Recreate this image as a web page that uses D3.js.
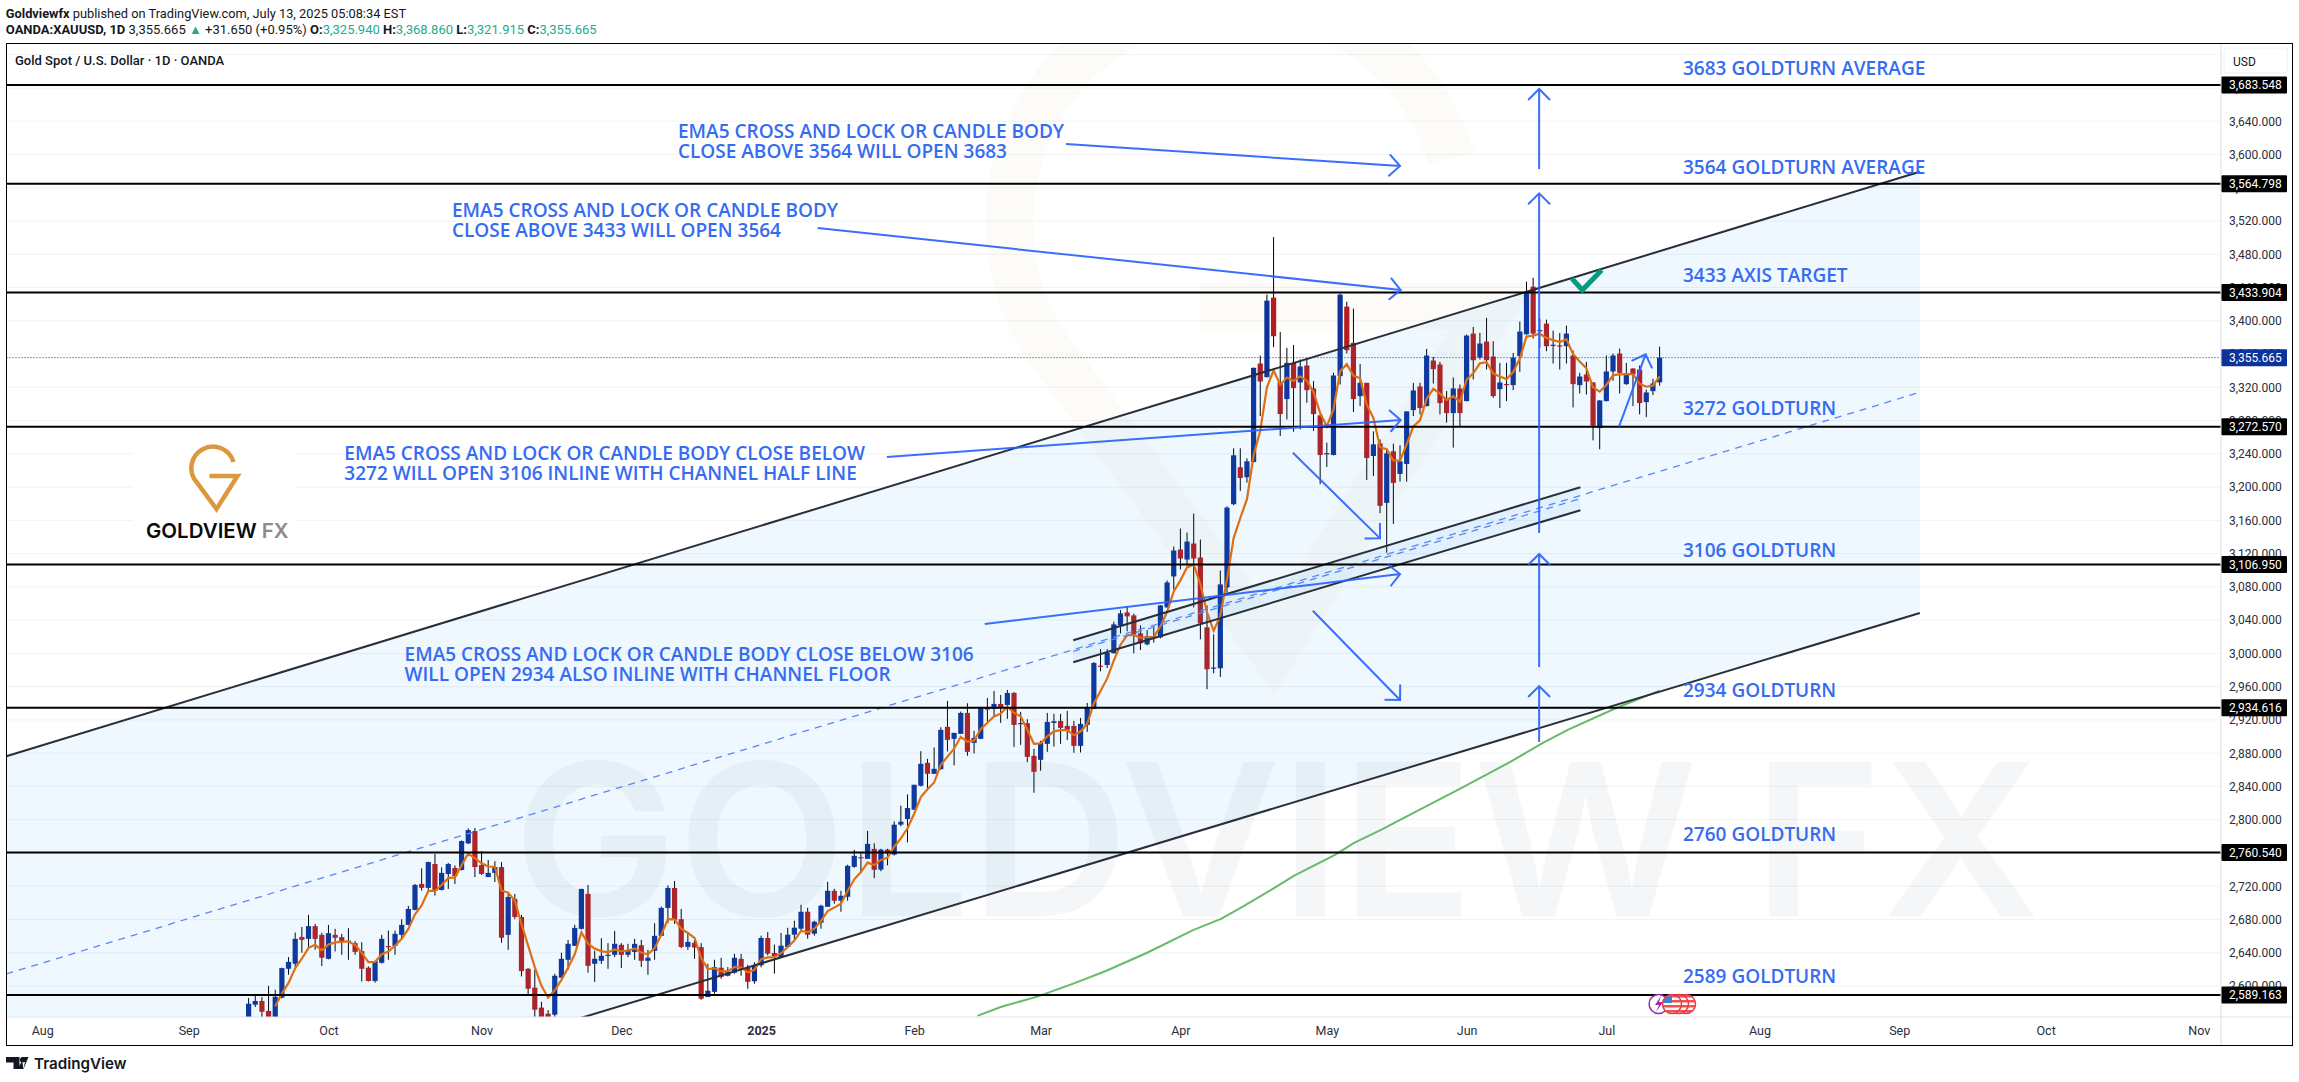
<!DOCTYPE html>
<html>
<head>
<meta charset="utf-8">
<style>
  html, body { margin: 0; padding: 0; background: #fff; }
  svg { display: block; }
  text { font-family: Roboto, sans-serif; }
</style>
</head>
<body>
<div id="chart"></div>
<script src="https://cdn.jsdelivr.net/npm/d3@7/dist/d3.min.js"></script>
<script>
// daily candles, oldest first
const opens = [2560,2577.5,2582,2570,2555,2586,2620.7,2626.7,2659,2656.7,
  2672,2661.5,2632.7,2661.5,2658.7,2654,2651.5,2642,2622,2606,
  2627.9,2648,2648.3,2661.5,2673.5,2691.5,2722.7,2718,2746.7,2715.5,
  2734.7,2741.9,2739.5,2771.5,2786.3,2745.5,2731,2736,2743,2661.5,
  2704.7,2683,2620.7,2598,2574,2566.7,2565.5,2610,2631.5,2648.3,
  2668.7,2710.7,2626.7,2630.3,2637,2637.5,2649.5,2637.5,2641,2649,
  2630.3,2642.3,2660.3,2693.9,2717.9,2680.3,2647,2651.9,2646.7,2586.7,
  2593,2622,2612.3,2616,2632.7,2622,2605.7,2624.9,2657.7,2639.7,
  2634.9,2646.9,2661.7,2668.9,2689.3,2662.9,2676.1,2695.3,2714.5,2702.5,
  2707.3,2743.3,2755,2752.9,2764.9,2740,2764,2758,2794,2800.8,
  2812,2840.8,2868.4,2855.2,2860.8,2911.6,2897.2,2903.2,2928.4,2892.4,
  2897.2,2934.4,2933.2,2939.2,2938,2952.4,2915.8,2916,2876.8,2872,
  2891.2,2916.4,2918.8,2912.8,2912.8,2888.8,2914,2933.2,2985.2,2986,
  3000.1,3033.7,3049.3,3045.7,3024.1,3010.9,3021,3019.3,3055.3,3092.5,
  3124.9,3112.9,3132.1,3115.3,3031.3,2982.6,2982.1,3079.3,3179.4,3223.8,
  3211.8,3230.2,3348.6,3332.2,3427.8,3326.2,3305.8,3349.4,3325.8,3346.2,
  3318.6,3286.2,3240.4,3238.6,3333.4,3417,3373.4,3309.4,3325.4,3237.4,
  3252.6,3181,3243,3215.8,3227.8,3292.6,3321,3297.4,3352.2,3347.4,
  3305.8,3289,3318.6,3303.4,3384.6,3355.8,3375,3357,3317.8,3324,
  3322.6,3357.4,3383.8,3441,3388.4,3396.6,3370.8,3370.4,3369.4,3358.2,
  3322.6,3335.4,3325.8,3271,3303.4,3339,3360.6,3323.8,3342.6,3341.4,
  3302.2,3315.4,3325.94];
const highs = [2585.5,2588,2586.7,2600,2595.5,2622,2634.7,2664.3,2671,2685.5,
  2674.7,2664,2673.5,2668.7,2662.7,2669.5,2654,2652.7,2623.5,2630.3,
  2661.5,2666.7,2666.7,2680.3,2696.3,2722.7,2741.5,2749.5,2758.7,2742.7,
  2748,2745,2775,2789.5,2790,2762.3,2751.5,2750,2749,2710.7,
  2710.7,2685.5,2621.5,2619.5,2581,2571,2614.7,2640,2655.5,2673.5,
  2717,2721.5,2642.3,2657.5,2651.5,2666.3,2651.5,2650.7,2656.7,2655.5,
  2643.5,2675.5,2695.5,2721,2726.3,2692.7,2664.3,2658.7,2651.5,2626.7,
  2631.5,2633.9,2622.7,2638.7,2638.7,2625.5,2628.5,2660.5,2664.9,2649.7,
  2663.7,2670,2678.5,2697.7,2694,2678.5,2697.7,2725.3,2716.9,2714.5,
  2745.7,2763.7,2759.7,2786.5,2771.7,2765,2765,2798,2816.8,2830.4,
  2842,2882.4,2873.2,2886.8,2911.2,2942.8,2904.4,2930,2940,2906.8,
  2935.6,2946.4,2954.8,2950,2956,2953.6,2929.6,2920.8,2885.2,2894.8,
  2928.4,2927.2,2927.2,2930.8,2918.8,2922.4,2940.4,2989.6,3005.2,3005.2,
  3038.1,3052.1,3056.9,3047.7,3033.7,3028,3032.9,3058,3087.7,3128.5,
  3150.1,3145.3,3168.1,3136.9,3057.7,3022.9,3099.7,3176.9,3246.6,3246.6,
  3234.6,3343.8,3358.2,3431.4,3500.6,3386.6,3367.4,3371,3353.4,3355.4,
  3327.4,3287.4,3253.4,3337.4,3432.6,3423,3414.6,3348.2,3325.4,3267,
  3257.4,3245.4,3252.2,3250.2,3291,3325.4,3325.4,3366.2,3356.6,3350.6,
  3315.4,3331.8,3323.4,3383.4,3392.6,3385.4,3403.4,3375.4,3349.4,3349.4,
  3361.4,3399,3447,3451.8,3402.6,3401.4,3388.2,3385.4,3394.2,3364.2,
  3337.4,3350.6,3326,3304.4,3358.2,3360.6,3366.6,3349.4,3343,3346.2,
  3317.4,3330.2,3368.86];
const lows = [2550,2574.7,2560,2550,2550,2585,2613.5,2622.7,2640,2644,
  2643.5,2624,2632,2641.5,2637.5,2631.5,2637.5,2605.5,2605.5,2604,
  2627,2631.5,2637.5,2656.7,2673,2691,2714.7,2715.5,2708.7,2715,
  2716.7,2722.7,2739,2770.7,2731,2733.5,2731,2725,2652,2643.5,
  2680.3,2611.5,2589.5,2560,2545,2537,2560,2610,2619.5,2648,
  2668,2616,2605,2626.7,2620.7,2634.7,2621.5,2634.7,2631.5,2623,
  2613.5,2631.5,2660,2675.5,2674.7,2645.5,2643.5,2632.7,2583.5,2586.7,
  2590.5,2608.7,2611.5,2614.7,2612.3,2596.7,2602.7,2622.5,2636.9,2614.9,
  2633.7,2646.9,2655.7,2666.5,2656.9,2660.5,2668.9,2695,2698.9,2689.3,
  2702.5,2742.1,2736,2752.9,2729.7,2738,2745,2757,2792,2772.8,
  2812,2840,2835.2,2855,2860,2882,2865.2,2903,2876.8,2879.6,
  2897,2918,2923.6,2916.4,2921.2,2887.6,2890,2869.2,2832.4,2858.8,
  2881.6,2888,2891.2,2896,2880.4,2880.8,2905.6,2933,2978.4,2982.4,
  3000,3024.1,3026.5,3000.1,3004.1,3009.7,3012.9,3018.1,3055,3076.9,
  3100.9,3105.7,3055.3,3016.9,2956.9,2976.1,2971.7,3072.9,3178.2,3195.4,
  3205.4,3229.4,3285.4,3332,3368.2,3261.4,3281.4,3266.6,3269.4,3301.4,
  3267.4,3203.4,3224.2,3238,3323.4,3360.6,3290.2,3297.4,3208.6,3213.4,
  3168.6,3121,3155.8,3206.6,3206.6,3285.4,3287.4,3297,3324.6,3287.4,
  3277.4,3247.4,3273.4,3303,3329.4,3353.4,3341.4,3307.4,3295,3303.4,
  3316.6,3338.6,3383,3378.6,3367.4,3363.4,3348.6,3341.4,3348.6,3295.8,
  3312.6,3311.4,3256.2,3245.4,3303,3327.8,3312.6,3323,3297.4,3287.4,
  3284.2,3310.6,3321.915];
const closes = [2578.7,2582,2569,2555,2587,2621.5,2629,2656.7,2655.5,2672,
  2656.7,2634,2663.5,2658,2654,2654.5,2641,2620.7,2606,2630,
  2656.7,2647.5,2662.7,2673.5,2692.7,2721.5,2718,2749,2714.3,2736,
  2746.7,2732.3,2774.3,2787.5,2743,2734.7,2736,2743,2658,2707,
  2683,2618,2596.7,2571.5,2555,2558,2612.3,2632.7,2650.7,2669.9,
  2716.7,2624.3,2632.7,2636.3,2637.5,2650.7,2637.5,2643.5,2650.7,2630.3,
  2634,2660.3,2693.9,2717.9,2679.5,2647,2653,2646.3,2584.7,2594.3,
  2622.7,2611,2617,2633.9,2620.7,2605,2624.9,2657.7,2638.9,2635.7,
  2648.5,2661.7,2670.1,2689.3,2661.7,2677.3,2696.5,2714.5,2702.5,2708.5,
  2744.5,2756.5,2754.5,2770.9,2739.7,2764,2759.6,2794,2797.6,2814,
  2842,2867.2,2855.2,2861.2,2908,2896,2904.4,2928.4,2881.6,2898.4,
  2935.6,2932.4,2939.2,2934.4,2952.4,2914,2916.2,2875.6,2857.6,2892.4,
  2917.6,2918.4,2910.4,2908,2888.8,2915.2,2934.4,2988.4,2984.4,3000.4,
  3034.9,3048.1,3044.5,3022.9,3012.1,3020.5,3020.5,3057.7,3085.3,3123.7,
  3114.1,3134.5,3114.1,3036.1,2980.9,2983,3082.9,3175.3,3238.2,3211,
  3231,3343.4,3327,3424.2,3381.4,3287.8,3349.4,3319,3345,3316.6,
  3287.8,3238.6,3240.8,3334.2,3431.4,3364.6,3305.8,3325.4,3235,3251.4,
  3177.4,3240.6,3205,3231,3291,3316.2,3295,3358.2,3341.8,3301,
  3289,3318.6,3289,3382.2,3352.6,3372.6,3352.6,3309.4,3325.8,3323.4,
  3355.8,3387,3433.8,3384.6,3388.8,3369.4,3371.2,3370,3384.6,3323.8,
  3333,3327,3273.8,3304.2,3339,3358.2,3337.4,3336.6,3335.4,3301,
  3313.8,3324.6,3355.665];

// orange EMA5, first value sits on bar index 4
const ema5 = [2575.7,2591,2603.7,2621.4,2632.8,2645.9,2649.5,2643,2649.8,2652.5,
  2653,2653.5,2649.3,2639.8,2628.6,2629,2638.2,2641.3,2648.4,2656.8,
  2668.7,2686.3,2696.9,2714.3,2714.3,2721.5,2729.7,2730.6,2745.2,2759.3,
  2753.9,2747.5,2743.7,2743.4,2714.9,2712.3,2702.5,2674.4,2648.5,2622.8,
  2600.2,2586.1,2594.8,2607.4,2621.8,2638.2,2664.4,2651,2644.9,2642,
  2640.5,2643.9,2641.8,2642.4,2645.2,2640.2,2638.1,2645.5,2661.6,2680.4,
  2680.1,2669,2663.7,2657.9,2633.5,2620.4,2621.2,2617.8,2617.6,2623,
  2622.3,2616.5,2619.3,2632.2,2634.4,2634.8,2639.4,2646.8,2654.6,2666.2,
  2664.7,2668.9,2678.1,2690.2,2694.3,2699,2714.2,2728.3,2737,2748.3,
  2745.4,2751.6,2754.3,2767.5,2777.5,2789.7,2807.1,2827.1,2836.5,2844.7,
  2865.8,2875.9,2885.4,2899.7,2893.7,2895.3,2908.7,2916.6,2924.1,2927.5,
  2935.8,2928.5,2924.4,2908.1,2891.3,2891.7,2900.3,2906.3,2907.7,2907.8,
  2901.5,2906,2915.5,2939.8,2954.7,2969.9,2991.6,3010.4,3021.8,3022.2,
  3018.8,3019.4,3019.8,3032.4,3050,3074.6,3087.8,3103.4,3107,3083.3,
  3049.2,3027.1,3045.7,3088.9,3138.7,3162.8,3185.5,3238.2,3267.8,3319.9,
  3340.4,3322.9,3331.7,3327.5,3333.3,3327.7,3314.4,3289.1,3273,3293.4,
  3339.4,3347.8,3333.8,3331,3299,3283.1,3247.9,3245.5,3232,3231.7,
  3251.5,3273,3280.3,3306.3,3318.1,3312.4,3304.6,3309.3,3302.5,3329.1,
  3336.9,3348.8,3350.1,3336.5,3332.9,3329.8,3338.4,3354.6,3381,3382.2,
  3384.4,3379.4,3376.7,3374.5,3377.8,3359.8,3350.9,3342.9,3319.9,3314.7,
  3322.8,3334.6,3335.5,3335.9,3335.7,3324.1,3320.7,3322,3333.2];

// green long moving average, spot readings
const smaBars = [109.5,113,118.5,124,128.8,135,141.9,146.1,149.5,153.7,157.1,
  163.3,166.1,170.2,176.4,181.9,189.5,194.4,198.2,205.4,212];
const smaValues = [2564,2574.8,2587.2,2603.2,2618,2640,2667.2,2680.8,2696,2716,2732.8,
  2758,2772,2788,2814,2836.8,2869.2,2892,2908,2934,2955.2];

const priceTicks = [2600,2640,2680,2720,2760,2800,2840,2880,2920,2960,3000,3040,3080,3120,
  3160,3200,3240,3280,3320,3360,3400,3440,3480,3520,3560,3600,3640,3680,3720];
const timeTicks = [-31,-9,12,35,56,77,100,119,140,162,183,204,227,248,270,293];
const timeLabels = ["Aug","Sep","Oct","Nov","Dec","2025","Feb","Mar","Apr","May","Jun","Jul","Aug","Sep","Oct","Nov"];

// black levels, prices as printed on the axis tags
const levels = [3683.548,3564.798,3433.904,3272.57,3106.95,2934.616,2760.54,2589.163];
const lastPrice = 3355.665;

// drawn channels as [bar, price]
const channelUpper = [[-36.4,2876.3],[251.1,3579.3]];
const channelLower = [[-36.4,2352.6],[251.1,3048.6]];
const channelMid = [[-36.4,2614.5],[251.1,3314]];
const smallUpper = [[123.9,3015.7],[200.1,3199.8]];
const smallLower = [[123.9,2989.3],[200.1,3172.2]];
const smallMid = [[123.9,3002.5],[200.1,3186]];

// drawn arrows, tail then tip as [bar, price]
const arrows = [
  [[122.8,3612.6],[173,3586.1]],
  [[85.5,3511.5],[173.1,3437]],
  [[95.9,3236.1],[173.1,3280.6]],
  [[110.6,3035.3],[173,3095.4]],
  [[156.9,3241.3],[170,3138.3]],
  [[159.9,3051.3],[173,2943.9]],
  [[193.9,3582.5],[193.9,3678.7]],
  [[193.9,3144.7],[193.9,3553.3]],
  [[193.9,2983.6],[193.9,3119.5]],
  [[193.9,2893.4],[193.9,2960.7]],
  [[205.9,3272.6],[209.9,3359.6]]
];

const levelNotes = ["3683 GOLDTURN AVERAGE","3564 GOLDTURN AVERAGE","3433 AXIS TARGET","3272 GOLDTURN",
  "3106 GOLDTURN","2934 GOLDTURN","2760 GOLDTURN","2589 GOLDTURN"];
const levelNoteY = [68,167,275,407.5,549.7,690,834,976];
const blocks = [
  { x: 678, y: 131, lines: ["EMA5 CROSS AND LOCK OR CANDLE BODY","CLOSE ABOVE 3564 WILL OPEN 3683"] },
  { x: 452, y: 210, lines: ["EMA5 CROSS AND LOCK OR CANDLE BODY","CLOSE ABOVE 3433 WILL OPEN 3564"] },
  { x: 344.3, y: 453, lines: ["EMA5 CROSS AND LOCK OR CANDLE BODY CLOSE BELOW","3272 WILL OPEN 3106 INLINE WITH CHANNEL HALF LINE"] },
  { x: 404.6, y: 654, lines: ["EMA5 CROSS AND LOCK OR CANDLE BODY CLOSE BELOW 3106","WILL OPEN 2934 ALSO INLINE WITH CHANNEL FLOOR"] }
];

// layout
const W = 2299, H = 1082;
const frame = { left: 6.5, right: 2292.5, top: 43.5, bottom: 1045.5 };
const plotRight = 2221, plotBottom = 1017;

const blue = "#2962ff", noteBlue = "#356cf2", upCol = "#0d3299", downCol = "#b71c1c";

var svg = d3.select("#chart").append("svg").attr("width", W).attr("height", H);

svg.append("clipPath").attr("id", "plot").append("rect")
  .attr("x", frame.left).attr("y", frame.top)
  .attr("width", plotRight - frame.left).attr("height", plotBottom - frame.top);

// scales
var x = d3.scaleLinear().domain([0, 212]).range([248.6, 1659.6]);
var y = d3.scaleLinear().domain([3683.548, 2589.163]).range([85, 995]);

var g = svg.append("g").attr("clip-path", "url(#plot)");

// gridlines
g.selectAll(".grid").data(priceTicks).enter().append("line")
  .attr("x1", frame.left).attr("x2", plotRight)
  .attr("y1", (d) => y(d)).attr("y2", (d) => y(d))
  .attr("stroke", "#f0f2f5").attr("stroke-width", 1);

// big faint logo and name behind everything
const pinPath = "M17,-13 A21.5,21.5 0 1 0 -20,7 L0,34 L21,1 L-7,1";
g.append("path").attr("d", pinPath)
  .attr("transform", "translate(1273,295) scale(10.5)")
  .attr("fill", "none").attr("stroke", "#b5803c").attr("stroke-width", 4.5)
  .attr("opacity", 0.035);
g.append("text").text("GOLDVIEW FX")
  .attr("x", 513).attr("y", 916)
  .attr("textLength", 1527).attr("lengthAdjust", "spacingAndGlyphs")
  .style("font-family", "Inter, sans-serif").style("font-weight", 600).style("font-size", "211px")
  .attr("fill", "#707f90").attr("opacity", 0.065);

// candles
var bars = closes.map((c, i) => ({ i: i, o: opens[i], h: highs[i], l: lows[i], c: c }));

g.selectAll(".wick").data(bars).enter().append("line")
  .attr("x1", (d) => x(d.i)).attr("x2", (d) => x(d.i))
  .attr("y1", (d) => y(d.h)).attr("y2", (d) => y(d.l))
  .attr("stroke", "#000").attr("stroke-width", 1);

g.selectAll(".body").data(bars).enter().append("rect")
  .attr("x", (d) => x(d.i) - 2.6).attr("width", 5.2)
  .attr("y", (d) => y(Math.max(d.o, d.c)))
  .attr("height", (d) => Math.max(1.2, Math.abs(y(d.o) - y(d.c))))
  .attr("fill", (d) => (d.c >= d.o ? upCol : downCol));

// moving averages
var line = d3.line().x((d) => x(d[0])).y((d) => y(d[1]));

g.append("path").attr("d", line(ema5.map((v, i) => [i + 4, v])))
  .attr("fill", "none").attr("stroke", "#ef6c00").attr("stroke-width", 2.2);
g.append("path").attr("d", line(smaBars.map((b, i) => [b, smaValues[i]])))
  .attr("fill", "none").attr("stroke", "#66bb6a").attr("stroke-width", 2);

// channels, shading first then the rails
function shade(a, b) {
  g.append("path").attr("d", line(a.concat(b.slice().reverse())) + "Z")
    .attr("fill", "#2196f3").attr("opacity", 0.07);
}
shade(channelUpper, channelLower);
shade(smallUpper, smallLower);

[channelUpper, channelLower, smallUpper, smallLower].forEach((c) => {
  g.append("path").attr("d", line(c)).attr("fill", "none")
    .attr("stroke", "#2a2e39").attr("stroke-width", 2);
});
[channelMid, smallMid].forEach((c) => {
  g.append("path").attr("d", line(c)).attr("fill", "none")
    .attr("stroke", "#5b86f5").attr("stroke-width", 1.3).attr("stroke-dasharray", "7 6");
});

// horizontal levels
g.selectAll(".level").data(levels).enter().append("line")
  .attr("x1", frame.left).attr("x2", plotRight)
  .attr("y1", (d) => y(d)).attr("y2", (d) => y(d))
  .attr("stroke", "#000").attr("stroke-width", 2);

// last price dotted line
g.append("line")
  .attr("x1", frame.left).attr("x2", plotRight)
  .attr("y1", y(lastPrice)).attr("y2", y(lastPrice))
  .attr("stroke", "#0d3299").attr("stroke-width", 1).attr("stroke-dasharray", "1 2");

// arrows with an open head
arrows.forEach((a) => {
  var x0 = x(a[0][0]), y0 = y(a[0][1]), x1 = x(a[1][0]), y1 = y(a[1][1]);
  var ang = Math.atan2(y1 - y0, x1 - x0), hl = 15.5;
  var d = "M" + x0 + "," + y0 + "L" + x1 + "," + y1 +
    "M" + (x1 + hl * Math.cos(ang + 2.356)) + "," + (y1 + hl * Math.sin(ang + 2.356)) +
    "L" + x1 + "," + y1 +
    "L" + (x1 + hl * Math.cos(ang - 2.356)) + "," + (y1 + hl * Math.sin(ang - 2.356));
  g.append("path").attr("d", d).attr("fill", "none")
    .attr("stroke", blue).attr("stroke-width", 2).attr("opacity", 0.92);
});

// check mark on the top rail
g.append("path").attr("d", line([[198.8, 3451], [200.4, 3437], [203.3, 3461]]))
  .attr("fill", "none").attr("stroke", "#089981").attr("stroke-width", 5);

// annotation text
function note(sel) {
  return sel.attr("fill", noteBlue).attr("dominant-baseline", "central")
    .style("font-family", "'Open Sans', sans-serif").style("font-weight", 600).style("font-size", "19px");
}
levelNotes.forEach((t, i) => {
  note(g.append("text").text(t).attr("x", 1683).attr("y", levelNoteY[i]));
});
blocks.forEach((b) => {
  b.lines.forEach((t, i) => {
    note(g.append("text").text(t).attr("x", b.x).attr("y", b.y + i * 20));
  });
});

// logo block on the left, sits on a white patch
var logo = g.append("g");
logo.append("rect").attr("x", 133).attr("y", 446).attr("width", 163).attr("height", 105).attr("fill", "#fff");
logo.append("path").attr("d", pinPath).attr("transform", "translate(216.5,475)")
  .attr("fill", "none").attr("stroke", "#dc983f").attr("stroke-width", 4.5);
logo.append("text").attr("x", 146).attr("y", 538)
  .style("font-family", "Inter, sans-serif").style("font-weight", 600).style("font-size", "20.5px")
  .call((t) => {
    t.append("tspan").text("GOLDVIEW ").attr("fill", "#0b0b0b");
    t.append("tspan").text("FX").attr("fill", "#8c8c8c");
  });

// economic event icons
var ev = g.append("g");
ev.append("circle").attr("cx", 1658.6).attr("cy", 1004).attr("r", 9.5)
  .attr("fill", "#fff").attr("stroke", "#9c27b0").attr("stroke-width", 1.5);
ev.append("path").attr("d", "M1661,996 L1655,1005 L1659,1005 L1656,1012 L1663,1002 L1659,1002 Z").attr("fill", "#9c27b0");
[1686, 1679, 1672].forEach((cx, k) => {
  var id = "fl" + k;
  svg.append("clipPath").attr("id", id).append("circle").attr("cx", cx).attr("cy", 1004).attr("r", 9.5);
  var f = ev.append("g");
  var fg = f.append("g").attr("clip-path", "url(#" + id + ")");
  fg.append("rect").attr("x", cx - 10).attr("y", 994).attr("width", 20).attr("height", 20).attr("fill", "#fff");
  [995, 1000, 1005, 1010].forEach((yy) => {
    fg.append("rect").attr("x", cx - 10).attr("y", yy).attr("width", 20).attr("height", 2.5).attr("fill", "#ef5350");
  });
  fg.append("rect").attr("x", cx - 10).attr("y", 994).attr("width", 10).attr("height", 9).attr("fill", "#3f7fd0");
  f.append("circle").attr("cx", cx).attr("cy", 1004).attr("r", 9.5)
    .attr("fill", "none").attr("stroke", "#f23645").attr("stroke-width", 1.5);
});

// right price axis
var axisY = svg.append("g").attr("transform", "translate(" + plotRight + ",0)")
  .call(d3.axisRight(y).tickValues(priceTicks.filter((d) => d < 3700)).tickFormat(d3.format(",.3f")).tickSize(0).tickPadding(8));
axisY.select(".domain").remove();
axisY.selectAll("text").attr("fill", "#2a2e39").style("font-size", "12px").style("font-family", "Roboto, sans-serif");

// bottom time axis
var axisX = svg.append("g").attr("transform", "translate(0," + plotBottom + ")")
  .call(d3.axisBottom(x).tickValues(timeTicks).tickFormat((d, i) => timeLabels[i]).tickSize(0).tickPadding(9));
axisX.select(".domain").remove();
axisX.selectAll("text").attr("fill", "#2a2e39").style("font-size", "12.5px").style("font-family", "Roboto, sans-serif")
  .style("font-weight", (d, i) => (timeLabels[i] == "2025" ? 700 : 400));

// separators and outer frame
svg.append("line").attr("x1", frame.left).attr("x2", frame.right).attr("y1", plotBottom).attr("y2", plotBottom)
  .attr("stroke", "#e0e3eb").attr("stroke-width", 1.2);
svg.append("line").attr("x1", plotRight).attr("x2", plotRight).attr("y1", frame.top).attr("y2", frame.bottom)
  .attr("stroke", "#e0e3eb").attr("stroke-width", 1.2);
svg.append("rect").attr("x", frame.left).attr("y", frame.top)
  .attr("width", frame.right - frame.left).attr("height", frame.bottom - frame.top)
  .attr("fill", "none").attr("stroke", "#000").attr("stroke-width", 1);

// price tags
function tag(price, fill) {
  var t = svg.append("g").attr("transform", "translate(" + (plotRight + 0.5) + "," + y(price) + ")");
  t.append("rect").attr("x", 0).attr("y", -8.5).attr("width", 65.5).attr("height", 17).attr("rx", 1).attr("fill", fill);
  t.append("text").text(d3.format(",.3f")(price)).attr("x", 7.5).attr("dy", "0.35em")
    .attr("fill", "#fff").style("font-size", "12px");
}
levels.forEach((d) => tag(d, "#000"));
tag(lastPrice, "#0d3299");

// USD box
svg.append("rect").attr("x", 2224).attr("y", 48).attr("width", 63.5).attr("height", 25).attr("rx", 3)
  .attr("fill", "#fff").attr("stroke", "#f0f3fa").attr("stroke-width", 1.2);
svg.append("text").text("USD").attr("x", 2233).attr("y", 61.7).attr("dominant-baseline", "central")
  .attr("fill", "#131722").style("font-size", "12px");

// title inside the plot
svg.append("text").text("Gold Spot / U.S. Dollar · 1D · OANDA").attr("x", 15).attr("y", 60.7)
  .attr("dominant-baseline", "central").attr("fill", "#131722").style("font-size", "13px").style("font-weight", 500);

// header lines
var head1 = svg.append("text").attr("x", 5.8).attr("y", 12.7).attr("dominant-baseline", "central")
  .attr("fill", "#131722").style("font-size", "12.8px");
head1.append("tspan").text("Goldviewfx").style("font-weight", 700);
head1.append("tspan").text(" published on TradingView.com, July 13, 2025 05:08:34 EST");

var teal = "#22ab94";
var head2 = svg.append("text").attr("x", 5.8).attr("y", 29.3).attr("dominant-baseline", "central")
  .attr("fill", "#131722").style("font-size", "13px");
head2.append("tspan").text("OANDA:XAUUSD, 1D").style("font-weight", 700);
head2.append("tspan").text("  3,355.665 ");
head2.append("tspan").text("▲").attr("fill", teal);
head2.append("tspan").text(" +31.650 (+0.95%) ");
[["O:", "3,325.940"], ["H:", "3,368.860"], ["L:", "3,321.915"], ["C:", "3,355.665"]].forEach((p) => {
  head2.append("tspan").text(p[0]).style("font-weight", 700);
  head2.append("tspan").text(p[1] + " ").attr("fill", teal);
});

// TradingView mark at the bottom
var tv = svg.append("g").attr("fill", "#131722");
tv.append("path").attr("d", "M6,1057 H19.5 V1069 H13.5 V1062.5 H6 Z");
tv.append("circle").attr("cx", 22.5).attr("cy", 1059.8).attr("r", 2.6);
tv.append("path").attr("d", "M23.5,1069 L28.5,1057 L21.5,1057 Z M23.5,1069 L17.5,1069 L21.5,1062 L25,1062 Z");
tv.append("text").text("TradingView").attr("x", 34).attr("y", 1063).attr("dominant-baseline", "central")
  .style("font-family", "Inter, sans-serif").style("font-weight", 600).style("font-size", "15.2px");
</script>
</body>
</html>
